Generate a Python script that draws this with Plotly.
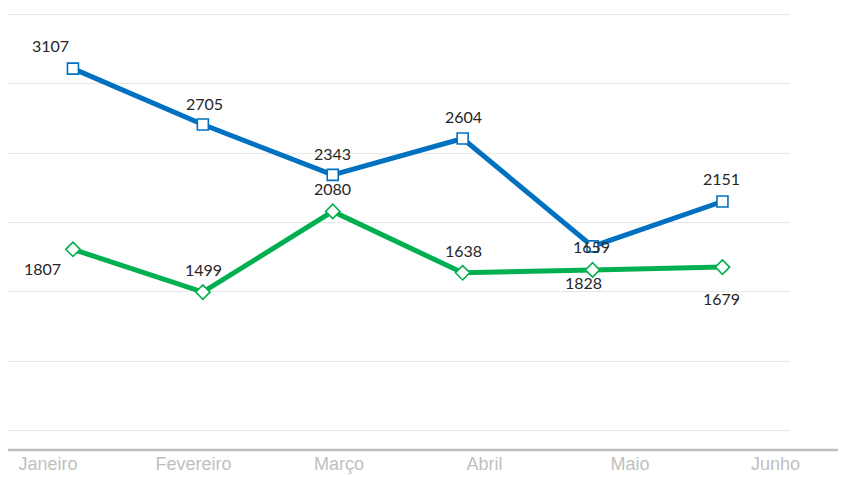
import plotly.graph_objects as go

months = ["Janeiro", "Fevereiro", "Março", "Abril", "Maio", "Junho"]
blue_values = [3107, 2705, 2343, 2604, 1828, 2151]
green_values = [1807, 1499, 2080, 1638, 1659, 1679]

# label offsets (pixels, dx, dy-up) for the data labels
blue_off = [(-22, 23), (2, 21), (0, 21), (1, 22), (-9, -36), (-1, 23)]
green_off = [(-30, -19), (1, 23), (0, 23), (1, 22), (-1, 23), (-1, -31)]

BLUE = "#0070C0"
GREEN = "#00B050"
LABEL_FONT = "Lato, 'Liberation Sans', sans-serif"

idx = list(range(len(months)))

fig = go.Figure()
fig.add_trace(go.Scatter(
    x=idx, y=blue_values, mode="lines+markers",
    line=dict(color=BLUE, width=5),
    marker=dict(symbol="square", size=11, color="white", line=dict(color=BLUE, width=1.6)),
    showlegend=False, hoverinfo="skip"))
fig.add_trace(go.Scatter(
    x=idx, y=green_values, mode="lines+markers",
    line=dict(color=GREEN, width=5),
    marker=dict(symbol="diamond", size=11, color="white", line=dict(color=GREEN, width=1.6)),
    showlegend=False, hoverinfo="skip"))
# invisible trace to carry the category axis labels
fig.add_trace(go.Scatter(x=months, y=[None] * len(months), xaxis="x2", yaxis="y",
                         mode="markers", showlegend=False, hoverinfo="skip"))

annotations = []
for vals, offs in ((blue_values, blue_off), (green_values, green_off)):
    for i, (v, (dx, dy)) in enumerate(zip(vals, offs)):
        annotations.append(dict(x=i, y=v, xref="x", yref="y", text=str(v), showarrow=False,
                                xshift=dx, yshift=dy,
                                font=dict(family=LABEL_FONT, size=16, color="#262626")))

fig.update_layout(
    width=838, height=469,
    margin=dict(l=0, r=56, t=2, b=27),
    paper_bgcolor="white", plot_bgcolor="white",
    xaxis=dict(range=[-0.5, 5.52], showgrid=False, zeroline=False, showline=False,
               showticklabels=False, fixedrange=True, automargin=False),
    xaxis2=dict(type="category", overlaying="x", side="bottom", anchor="y",
                range=[-0.2749, 5.0997], showgrid=False, zeroline=False, showline=False,
                ticks="", ticklabelstandoff=1, automargin=False,
                tickfont=dict(family="'Liberation Sans', Arial, sans-serif", size=18, color="#BFBFBF")),
    yaxis=dict(range=[363, 3529], dtick=500, tick0=0, showgrid=True, gridcolor="#E6E6E6",
               gridwidth=1, zeroline=False, showline=False, showticklabels=False,
               automargin=False),
    annotations=annotations,
    shapes=[dict(type="line", xref="paper", yref="paper", x0=-0.05, x1=1.1, y0=0, y1=0,
                 line=dict(color="#BFBFBF", width=2.5))],
)

fig.write_html("out.html")
